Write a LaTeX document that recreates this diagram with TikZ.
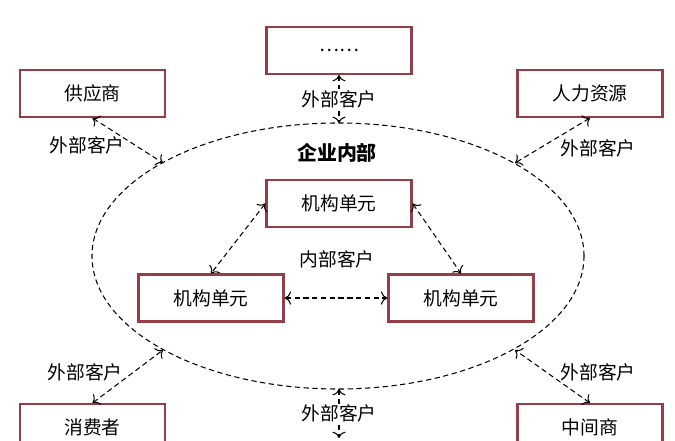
\documentclass[tikz,border=0pt]{standalone}
\usepackage{fontspec}
\newfontfamily\cjk{Noto Sans CJK SC}
\usepackage{tikz}
\usetikzlibrary{calc,arrows.meta}
\definecolor{kuang}{RGB}{150,62,72}

\begin{document}
\begin{tikzpicture}[x=0.03cm,y=0.03cm,
    danyuan/.style={draw=kuang,line width=2pt,minimum width=4.35cm,minimum height=1.4cm,font=\cjk\fontsize{16}{18}\selectfont},
    biaoqian/.style={font=\cjk\fontsize{16}{18}\selectfont,inner sep=1pt},
    xuxian/.style={dash pattern=on 4.5pt off 3pt,line width=0.9pt},
    >={To[scale=1.5]}]
            \useasboundingbox (0,0) rectangle (675,440); %固定画布大小
            %画企业内部的虚线椭圆
            \draw[xuxian] (338,184) ellipse (7.38cm and 3.99cm);
            \node[font=\cjk\bfseries\fontsize{17}{18}\selectfont] (neibu) at (337,287) {企业内部};
            %椭圆上的连接点
            \coordinate (eding) at (339,317);
            \coordinate (edi) at (339,51);
            \coordinate (ezs) at (163,277);
            \coordinate (eys) at (515,277);
            \coordinate (ezx) at (163,90);
            \coordinate (eyx) at (515,90);
            \coordinate (xia) at (339,2);
            %外部的单元
            \node[danyuan] (qita) at (339,389.5) {……};
            \node[danyuan] (gys) at (92.5,346.5) {供应商};
            \node[danyuan] (rlzy) at (590,346.5) {人力资源};
            \node[danyuan] (xfz) at (92.5,12.5) {消费者};
            \node[danyuan] (zjs) at (590,12.5) {中间商};
            %内部的机构单元
            \node[danyuan] (jgs) at (339,236.5) {机构单元};
            \node[danyuan] (jgz) at (211,142) {机构单元};
            \node[danyuan] (jgy) at (461,142) {机构单元};
            \node[biaoqian] (nbkh) at (337,181) {内部客户};
            %内部客户之间的箭头
            \draw[xuxian,<->] (jgs.west) -- (jgz.north);
            \draw[xuxian,<->] (jgs.east) -- (jgy.north);
            \draw[xuxian,<->] (jgz.east) -- (jgy.west);
            %外部客户的箭头
            \draw[xuxian,<->] (qita.south) -- (eding) node[midway,biaoqian,fill=white] (wb1) {外部客户};
            \draw[xuxian,<->] (edi) -- (xia) node[midway,biaoqian,fill=white] (wb2) {外部客户};
            \draw[xuxian,<->] (gys.south) -- (ezs);
            \draw[xuxian,<->] (rlzy.south) -- (eys);
            \draw[xuxian,<->] (xfz.north) -- (ezx);
            \draw[xuxian,<->] (zjs.north) -- (eyx);
            \node[biaoqian] (wb3) at (87,295) {外部客户};
            \node[biaoqian] (wb4) at (598,292) {外部客户};
            \node[biaoqian] (wb5) at (85,68) {外部客户};
            \node[biaoqian] (wb6) at (598,68) {外部客户};
\end{tikzpicture}
\end{document}
